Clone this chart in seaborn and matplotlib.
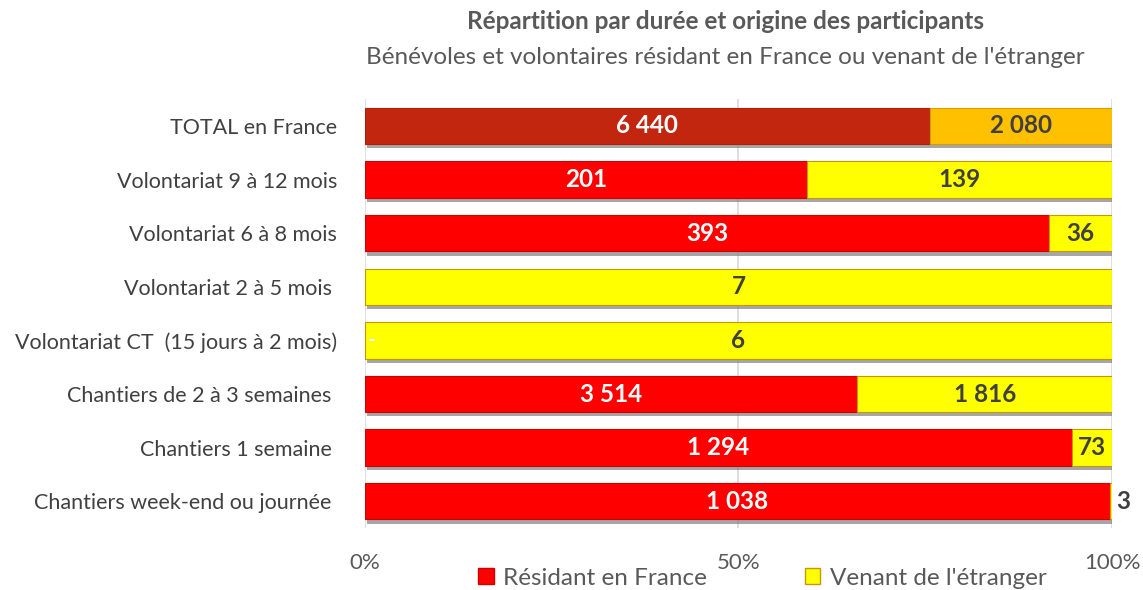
import numpy as np
import pandas as pd
import matplotlib
matplotlib.use("Agg")
import matplotlib.pyplot as plt
import matplotlib.patheffects as pe
from matplotlib.patches import Patch
import seaborn as sns

# data
categories = ["TOTAL en France", "Volontariat 9 à 12 mois", "Volontariat 6 à 8 mois",
              "Volontariat 2 à 5 mois ", "Volontariat CT  (15 jours à 2 mois)",
              "Chantiers de 2 à 3 semaines ", "Chantiers 1 semaine ",
              "Chantiers week-end ou journée "]
residents = [6440, 201, 393, 0, 0, 3514, 1294, 1038]
etrangers = [2080, 139, 36, 7, 6, 1816, 73, 3]
res_labels = ["6 440", "201", "393", "", "-", "3 514", "1 294", "1 038"]
etr_labels = ["2 080", "139", "36", "7", "6", "1 816", "73", "3"]

sns.set_style("white")
plt.rcParams['font.family'] = ['Lato', 'DejaVu Sans']

df = pd.DataFrame({"cat": categories, "res": residents, "etr": etrangers})
df["tot"] = df["res"] + df["etr"]
df["p_res"] = df["res"] / df["tot"]
df["p_etr"] = df["etr"] / df["tot"]

fig = plt.figure(figsize=(11.43, 5.9), dpi=100)
ax = fig.add_axes([0.3193, 0.105, 0.6536, 0.727])

y = np.arange(len(categories))
shadow = [pe.SimplePatchShadow(offset=(1.5, -3), shadow_rgbFace="#808080", alpha=0.7), pe.Normal()]

red_cols = ["#C3260F"] + ["#FF0000"] * (len(categories) - 1)
red_edge = ["#B01E0A"] + ["#D00000"] * (len(categories) - 1)
yel_cols = ["#FFC000"] + ["#FFFF00"] * (len(categories) - 1)
yel_edge = ["#D0A000"] + ["#C8960A"] * (len(categories) - 1)

for xv in [0, 0.5, 1.0]:
    ax.axvline(xv, color="#d9d9d9", lw=1.2, zorder=0)

b1 = ax.barh(y, df["p_res"], height=0.68, color=red_cols, edgecolor=red_edge, lw=0.8, zorder=2)
b2 = ax.barh(y, df["p_etr"], left=df["p_res"], height=0.68, color=yel_cols,
             edgecolor=yel_edge, lw=0.8, zorder=2)
for b in list(b1) + list(b2):
    b.set_path_effects(shadow)

for i in range(len(categories)):
    pr = df["p_res"][i]
    pt = df["p_etr"][i]
    if res_labels[i] == "-":
        ax.text(0.004, i, "-", color="white", ha="left", va="center", fontsize=15, fontweight="bold", zorder=3)
    elif res_labels[i]:
        ax.text(pr / 2, i, res_labels[i], color="white", ha="center", va="center",
                fontsize=17.5, fontweight="bold", zorder=3)
    if pt < 0.01:
        ax.text(1.006, i, etr_labels[i], color="#404040", ha="left", va="center",
                fontsize=17.5, fontweight="bold", zorder=3)
    else:
        ax.text(pr + pt / 2, i, etr_labels[i], color="#404040", ha="center", va="center",
                fontsize=17.5, fontweight="bold", zorder=3)

ax.set_xlim(0, 1)
ax.set_ylim(len(categories) - 0.5, -0.5)
ax.set_yticks(y)
ax.set_yticklabels(categories, fontsize=15.5, color="#404040")
ax.tick_params(axis="y", length=0, pad=20)
ax.set_xticks([0, 0.5, 1])
ax.set_xticklabels(["0%", "50%", "100%"], fontsize=16, color="#595959")
ax.tick_params(axis="x", length=0, pad=18)
for s in ax.spines.values():
    s.set_visible(False)

fig.text(0.6343, 0.963, "Répartition par durée et origine des participants", ha="center", va="center",
         fontsize=17.5, fontweight="bold", color="#595959")
fig.text(0.6343, 0.903, "Bénévoles et volontaires résidant en France ou venant de l'étranger",
         ha="center", va="center", fontsize=17.5, color="#595959")

handles = [Patch(facecolor="#FF0000", edgecolor="#D00000", label="Résidant en France"),
           Patch(facecolor="#FFFF00", edgecolor="#C8960A", label="Venant de l'étranger")]
fig.legend(handles=handles, loc="center", bbox_to_anchor=(0.667, 0.02), ncol=2, frameon=False,
           fontsize=17.5, labelcolor="#595959", handlelength=0.65, handleheight=0.65, columnspacing=4.0,
           handletextpad=0.4)

fig.savefig("out.png", dpi=100)
